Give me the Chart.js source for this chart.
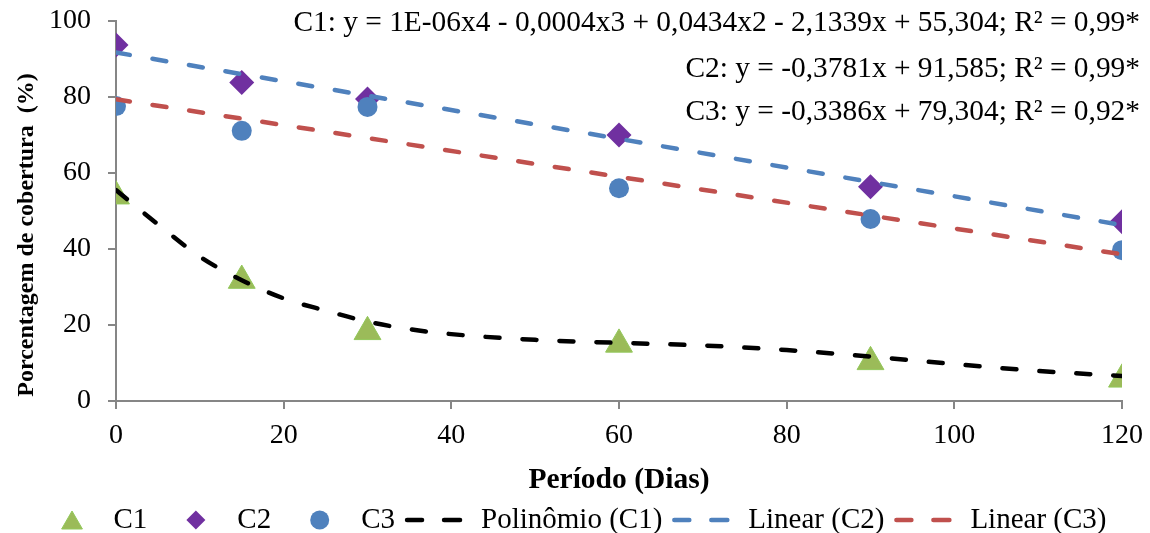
<!DOCTYPE html>
<html>
<head>
<meta charset="utf-8">
<script src="https://cdn.jsdelivr.net/npm/chart.js@4.4.0/dist/chart.umd.min.js"></script>
<style>
  html, body { margin: 0; padding: 0; background: #fff; }
  #wrap { width: 1150px; height: 533px; }
</style>
</head>
<body>
<div id="wrap"><canvas id="myChart"></canvas></div>
<script>
// dados
const days = [0, 15, 30, 60, 90, 120];
const c1 = [53.9, 31.7, 18.2, 14.9, 10.3, 5.7];
const c2 = [93.7, 83.8, 79.5, 70.0, 56.4, 47.2];
const c3 = [77.6, 71.1, 77.4, 56.0, 47.9, 39.7];

// linha de tendência polinomial (C1), lida ponto a ponto
const polyDays = [0, 5, 10, 15, 20, 25, 30, 35, 40, 50, 60, 70, 80, 90, 100, 110, 120];
const polyC1 = [55.5, 46.5, 38.0, 31.8, 27.0, 23.8, 20.9, 18.9, 17.6, 16.1, 15.3, 14.6, 13.4, 11.7, 9.7, 7.9, 6.6];

// tendências lineares (C2, C3)
const trendDays = [0, 120];
const linC2 = [91.7, 46.3];
const linC3 = [79.4, 38.6];

const xTicks = [0, 20, 40, 60, 80, 100, 120];
const yTicks = [0, 20, 40, 60, 80, 100];

const equations = [
    'C1: y = 1E-06x4 - 0,0004x3 + 0,0434x2 - 2,1339x + 55,304; R² = 0,99*',
    'C2: y = -0,3781x + 91,585; R² = 0,99*',
    'C3: y = -0,3386x + 79,304; R² = 0,92*'
];
const yTitle = 'Porcentagem de cobertura  (%)';
const xTitle = 'Período (Dias)';

const FONT = "'Liberation Serif', 'Times New Roman', serif";
const GREEN = '#9BBB59';
const PURPLE = '#7030A0';
const BLUE = '#4F81BD';
const RED = '#C0504D';
const AXIS = '#868686';
const DASH = [14, 23];

const pts = (xs, ys) => xs.map((x, i) => ({ x, y: ys[i] }));

const datasets = [
    { label: 'C1', data: pts(days, c1), pointStyle: 'triangle', pointRadius: 15.5, legendRadius: 12,
      backgroundColor: GREEN, borderColor: '#92C85A', pointBorderWidth: 1, showLine: false, order: 3 },
    { label: 'C2', data: pts(days, c2), pointStyle: 'rectRot', pointRadius: 12.5, legendRadius: 9.5,
      backgroundColor: PURPLE, borderColor: PURPLE, pointBorderWidth: 0, showLine: false, order: 2 },
    { label: 'C3', data: pts(days, c3), pointStyle: 'circle', pointRadius: 10, legendRadius: 9.5,
      backgroundColor: BLUE, borderColor: BLUE, pointBorderWidth: 0, showLine: false, order: 1 },
    { label: 'Polinômio (C1)', data: pts(polyDays, polyC1), showLine: true, pointRadius: 0,
      borderColor: '#000', borderWidth: 4.5, borderDash: DASH, borderCapStyle: 'round',
      cubicInterpolationMode: 'monotone', fill: false, order: 0 },
    { label: 'Linear (C2)', data: pts(trendDays, linC2), showLine: true, pointRadius: 0,
      borderColor: BLUE, borderWidth: 4.5, borderDash: DASH, borderCapStyle: 'round', fill: false, order: 0 },
    { label: 'Linear (C3)', data: pts(trendDays, linC3), showLine: true, pointRadius: 0,
      borderColor: RED, borderWidth: 4.5, borderDash: DASH, borderCapStyle: 'round', fill: false, order: 0 }
];

function drawMarker(ctx, ds, x, y) {
    Chart.helpers.drawPoint(ctx, {
        pointStyle: ds.pointStyle,
        radius: ds.legendRadius,
        borderWidth: ds.pointBorderWidth || 0,
        rotation: 0
    }, x, y);
}

const extras = {
    id: 'extras',
    afterDraw(chart) {
        const ctx = chart.ctx;
        ctx.save();
        ctx.fillStyle = '#000';

        // título do eixo y
        ctx.save();
        ctx.translate(27, 235);
        ctx.rotate(-Math.PI / 2);
        ctx.font = 'bold 24px ' + FONT;
        ctx.textAlign = 'center';
        ctx.textBaseline = 'middle';
        ctx.fillText(yTitle, 0, 0);
        ctx.restore();

        // equações
        ctx.font = '29.4px ' + FONT;
        ctx.textAlign = 'right';
        ctx.textBaseline = 'middle';
        const eqY = [23, 69, 112];
        equations.forEach((t, i) => ctx.fillText(t, 1140, eqY[i]));

        // legenda
        const ly = 520;
        ctx.font = '29px ' + FONT;
        ctx.textAlign = 'left';
        const items = datasets.map(ds => ({ ds, marker: !ds.showLine, w: ctx.measureText(ds.label).width }));
        let total = 0;
        items.forEach((it, i) => {
            total += 57 + (it.marker ? 13 : 19) + it.w;
            if (i < items.length - 1) total += items[i + 1].marker ? 20 : 10;
        });
        let x = 575 - total / 2;
        items.forEach((it, i) => {
            const ds = it.ds;
            if (it.marker) {
                ctx.fillStyle = ds.backgroundColor;
                ctx.strokeStyle = ds.borderColor;
                ctx.lineWidth = ds.pointBorderWidth || 0;
                drawMarker(ctx, ds, x + 28.5, ly + (ds.pointStyle === 'triangle' ? 3 : 0));
            } else {
                ctx.strokeStyle = ds.borderColor;
                ctx.lineWidth = ds.borderWidth;
                ctx.lineCap = 'round';
                ctx.setLineDash([]);
                ctx.beginPath();
                ctx.moveTo(x + 2, ly); ctx.lineTo(x + 17, ly);
                ctx.moveTo(x + 39, ly); ctx.lineTo(x + 55, ly);
                ctx.stroke();
            }
            const tx = x + 57 + (it.marker ? 13 : 19);
            ctx.fillStyle = '#000';
            ctx.fillText(ds.label, tx, ly);
            x = tx + it.w;
            if (i < items.length - 1) x += items[i + 1].marker ? 20 : 10;
        });
        ctx.restore();
    }
};

const ctx = document.getElementById('myChart').getContext('2d');

new Chart(ctx, {
    type: 'scatter',
    data: { datasets },
    plugins: [extras],
    options: {
        responsive: true,
        maintainAspectRatio: false,
        animation: false,
        layout: { padding: { left: 0, right: 28, top: 21, bottom: 35 } },
        plugins: {
            legend: { display: false },
            tooltip: { enabled: false }
        },
        scales: {
            x: {
                type: 'linear',
                min: 0,
                max: 120,
                afterBuildTicks(scale) { scale.ticks = xTicks.map(v => ({ value: v })); },
                afterFit(scale) {
                    scale.height = 97;
                    scale.paddingLeft = 0;
                    scale.paddingRight = 0;
                },
                border: { display: true, color: AXIS, width: 2 },
                grid: { display: true, drawOnChartArea: false, drawTicks: true, tickLength: 8, color: AXIS, lineWidth: 2 },
                ticks: { color: '#000', font: { family: FONT, size: 28 }, padding: 10, maxRotation: 0 },
                title: { display: true, text: xTitle, color: '#000',
                         font: { family: FONT, size: 29.5, weight: 'bold' }, padding: { top: 0, bottom: 0 } }
            },
            y: {
                type: 'linear',
                min: 0,
                max: 100,
                afterBuildTicks(scale) { scale.ticks = yTicks.map(v => ({ value: v })); },
                afterFit(scale) {
                    scale.width = 116;
                    scale.paddingTop = 0;
                    scale.paddingBottom = 0;
                },
                border: { display: true, color: AXIS, width: 2 },
                grid: { display: true, drawOnChartArea: false, drawTicks: true, tickLength: 8, color: AXIS, lineWidth: 2 },
                ticks: { color: '#000', font: { family: FONT, size: 28 }, padding: 17 },
                title: { display: false }
            }
        }
    }
});
</script>
</body>
</html>
